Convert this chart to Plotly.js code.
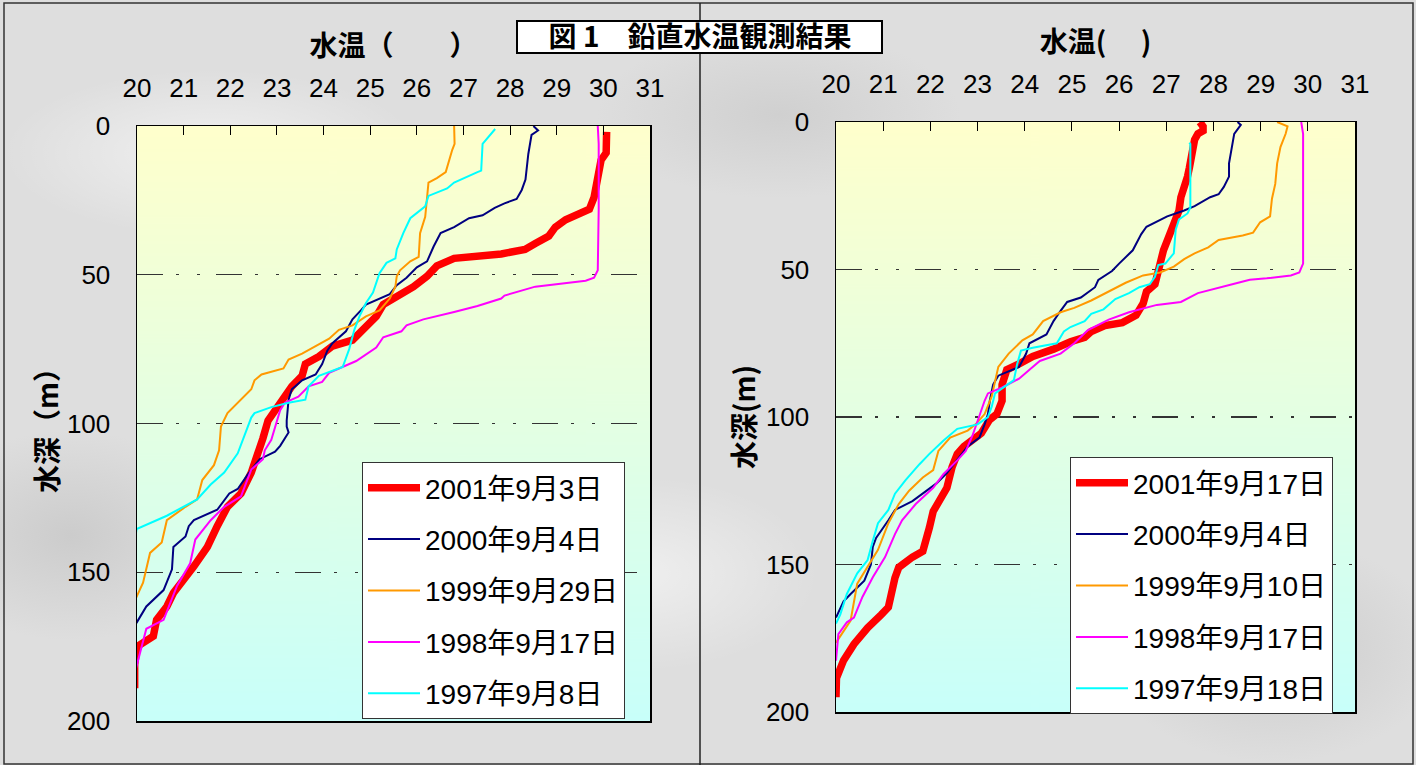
<!DOCTYPE html>
<html>
<head>
<meta charset="utf-8">
<script src="https://cdn.plot.ly/plotly-3.0.1.min.js"></script>
<style>
html,body{margin:0;padding:0;}
body{
  width:1416px;height:765px;overflow:hidden;
  background:
    radial-gradient(ellipse 300px 120px at 15% 20%, rgba(255,255,255,0.55), rgba(255,255,255,0) 70%),
    radial-gradient(ellipse 260px 140px at 45% 75%, rgba(255,255,255,0.5), rgba(255,255,255,0) 70%),
    radial-gradient(ellipse 320px 110px at 80% 30%, rgba(255,255,255,0.5), rgba(255,255,255,0) 70%),
    radial-gradient(ellipse 240px 160px at 90% 85%, rgba(170,170,170,0.35), rgba(170,170,170,0) 70%),
    radial-gradient(ellipse 220px 150px at 5% 70%, rgba(170,170,170,0.35), rgba(170,170,170,0) 70%),
    radial-gradient(ellipse 260px 120px at 55% 15%, rgba(175,175,175,0.3), rgba(175,175,175,0) 70%),
    #dedede;
}
#chart{width:1416px;height:765px;}
</style>
</head>
<body>
<div id="chart"></div>
<script>
// ---------- DATA (temperature °C, depth m) ----------
// Left panel
const L_2001_T = [30.07,30.06,29.95,29.88,29.80,29.70,29.48,29.19,28.97,28.83,28.54,28.32,27.81,27.09,26.80,26.43,26.22,25.93,25.57,25.28,25.13,24.91,24.62,24.19,23.90,23.61,23.54,23.32,23.17,22.96,22.81,22.70,22.56,22.45,22.23,21.94,21.72,21.51,21.22,21.00,20.78,20.64,20.42,20.35,20.00,19.95,19.95];
const L_2001_D = [2,9,11.5,17,24,28,29.5,31.5,34,37,39.5,41.5,43,44,44.5,47,50.5,54,57,60,64,67.5,72,74,77.5,80,84,87.5,91,95.5,99,105,111,116.5,123.5,128,134.5,141.5,148,152.5,157,161.5,166,171.5,175,181,189];

const L_2000_T = [28.50,28.60,28.46,28.39,28.33,28.25,28.14,27.88,27.67,27.41,27.12,26.80,26.51,26.36,26.22,26.00,25.78,25.57,25.42,25.13,24.91,24.80,24.62,24.48,24.19,24.08,23.97,23.83,23.54,23.32,23.25,23.21,23.21,23.25,23.07,22.96,22.63,22.38,22.16,21.98,21.72,21.22,21.11,21.04,20.78,20.75,20.57,20.20,19.99,19.90];
const L_2000_D = [0,1.5,3,9.5,18,21.5,24.5,26,27.5,30,31,34,36,40.5,45.5,47.5,51,53.5,56.5,58.5,60,62,65,69,73,75.5,80,83.5,85.5,88.5,92,99,101,103,107.5,109.5,112,117,122,123.5,129,132.5,134.5,138,141.5,149,156,161.5,167,168.5];

const L_1999_T = [26.80,26.81,26.76,26.65,26.62,26.43,26.25,26.22,26.18,26.07,26.04,25.86,25.64,25.57,25.54,25.42,25.20,24.91,24.62,24.33,24.12,23.83,23.54,23.25,23.14,22.67,22.52,22.45,22.16,21.94,21.80,21.76,21.65,21.40,21.29,21.04,20.64,20.53,20.28,20.13,19.91];
const L_1999_D = [0,6,8,14,15.5,17.5,19,24,30.5,36,44,45.5,48.5,50.5,54,58,62,64,67,68.5,71.5,74,76.5,78.5,81.5,83.5,85.5,88.5,93,96.5,101,109,114,119,125.5,128,132.5,140,143.5,153.5,161];

const L_1998_T = [29.88,29.90,29.90,29.88,29.80,29.62,28.54,27.88,27.81,27.30,26.80,26.14,25.78,25.67,25.28,25.13,24.70,24.41,24.12,23.97,23.68,23.46,23.17,23.07,22.98,22.88,22.74,22.70,22.45,22.23,21.87,21.58,21.25,21.14,20.86,20.57,20.20,20.06,19.95];
const L_1998_D = [0,6,28,48.5,51,52,54,57,58,60.5,62.5,65,67,69,71,74.5,79,81,83,86,87.5,91,93,95.5,100,105.5,109,112,115.5,124.5,128,132.5,139,147,154.5,166,169,177,184];

const L_1997_T = [27.68,27.48,27.41,27.38,27.30,26.80,26.65,26.25,26.18,25.86,25.71,25.57,25.54,25.35,25.20,25.06,24.91,24.77,24.66,24.55,24.41,23.90,23.68,23.61,23.25,22.88,22.52,22.45,22.30,22.16,21.87,21.58,21.29,20.93,20.64,19.99,19.95];
const L_1997_D = [1,4.5,6,15,15.5,19,21,23.5,27,31,36,41.5,44.5,46,49.5,56,59.5,64,68.5,75,81,84,87.5,92,93,94.5,96.5,98,104.5,110,116.5,120.5,125.5,128.5,131,135.5,140];

// Right panel
const R_2001_T = [27.71,27.78,27.78,27.67,27.60,27.53,27.49,27.45,27.38,27.31,27.27,27.16,27.02,26.94,26.87,26.83,26.76,26.58,26.51,26.36,26.07,25.70,25.41,25.27,24.97,24.61,24.17,23.88,23.62,23.52,23.52,23.41,23.25,23.08,22.86,22.71,22.57,22.46,22.35,22.17,22.06,21.98,21.84,21.62,21.33,21.25,21.11,20.96,20.67,20.38,20.16,20.01,20.00];
const R_2001_D = [0,1.5,3,4,6,10.5,15.5,18.5,22,25.5,30,34.5,39,43.5,48,51.5,55,57.5,61.5,65.5,68,69,71,73,74.5,77,79.5,82,84,89,94.5,99,101,105.5,108,110,112.5,117,124,128.5,132,137.5,145.5,147.5,151,154.5,164.5,167,171.5,177,182.5,188.5,195];

const R_2000_T = [28.51,28.58,28.44,28.40,28.33,28.33,28.22,28.11,27.93,27.60,27.38,27.02,26.58,26.47,26.29,26.00,25.85,25.56,25.49,25.19,24.90,24.76,24.61,24.46,24.10,24.03,23.88,23.44,23.33,23.26,23.22,23.15,23.04,22.79,22.57,22.35,22.13,21.84,21.62,21.25,21.11,20.85,20.78,20.74,20.60,20.31,20.16,20.00];
const R_2000_D = [0,1,4,7.5,14,18.5,22,24.5,25.5,28.5,30,32,35.5,38,43.5,48,50.5,53.5,56,59.5,61,64,67.5,72,75,78.5,83,86,89,94.5,99,102.5,107,110,114.5,119,122.5,126,128.5,131.5,135,141,144,150,155.5,160,162.5,168];

const R_1999_T = [29.35,29.57,29.53,29.42,29.35,29.31,29.24,29.20,28.99,28.84,28.62,28.11,27.89,27.60,27.38,27.16,26.87,26.51,26.14,25.78,25.41,25.05,24.76,24.39,24.17,23.95,23.66,23.44,23.37,23.30,23.15,22.97,22.79,22.42,22.17,22.06,21.84,21.55,21.33,21.11,20.89,20.45,20.31,20.00];
const R_1999_D = [0,1.5,4,8.5,14,21,26,32,34,37.5,38.5,40,42.5,44.5,46.5,49,51,52,54.5,57.5,60.5,63,64.5,67.5,72,74,78.5,83,87.5,93,99,102.3,104.6,107,111.5,118,120.5,125,129.5,136,145,156.5,169,176.5];

const R_1998_T = [29.86,29.90,29.90,29.90,29.82,29.64,29.13,28.77,28.40,27.89,27.67,27.31,26.80,26.21,25.78,25.34,25.19,25.05,24.76,24.32,24.10,23.88,23.52,23.22,23.15,23.08,23.02,22.90,22.75,22.57,22.28,22.06,21.69,21.40,21.25,21.04,20.78,20.56,20.38,20.23,20.05,20.00];
const R_1998_D = [0,4,30,48,51,52,53,53.5,55,57,58,61,62,64.5,67,70.5,73,75,78.5,81,84,87,90,92,94.5,97.5,100.5,106,111.5,114.7,119.3,124,129.5,135,139.7,147.5,154.3,161,168,169.6,173.6,182.6];

const R_1997_T = [27.49,27.51,27.51,27.45,27.27,27.20,27.16,26.98,26.83,26.76,26.65,26.43,26.21,25.92,25.67,25.41,25.27,24.97,24.83,24.68,24.17,23.92,23.84,23.77,23.37,23.30,23.22,23.00,22.57,22.28,21.98,21.77,21.47,21.25,21.11,20.89,20.78,20.67,20.45,20.23,20.09,20.00];
const R_1997_D = [7,7.5,29,31,33,36.5,44.5,48,48.5,52.5,55,56,58,60,63.5,65,67.5,69.5,71,75,76.5,77.5,82,87.5,92,96.5,100,102.5,104,108,112.5,116,121.5,126,131.5,136,142,148.5,153,160,167,170];

const leftNames  = ['2001年9月3日','2000年9月4日','1999年9月29日','1998年9月17日','1997年9月8日'];
const rightNames = ['2001年9月17日','2000年9月4日','1999年9月10日','1998年9月17日','1997年9月18日'];
const tempTicks = [20,21,22,23,24,25,26,27,28,29,30,31];
const depthTicks = [0,50,100,150,200];

// ---------- STYLE ----------
const W = 1416, H = 765;
const px = v => v / W;
const py = v => 1 - v / H;
const colors = ['#FF0000','#000080','#FF9900','#FF00FF','#00FFFF'];
const widths = [7.5,2,2,2,2];
const FONT = 'Liberation Sans, Arial, Noto Sans CJK JP, sans-serif';
const JFONT = 'Noto Sans CJK JP, Liberation Sans, sans-serif';

const leftData  = [[L_2001_T,L_2001_D],[L_2000_T,L_2000_D],[L_1999_T,L_1999_D],[L_1998_T,L_1998_D],[L_1997_T,L_1997_D]];
const rightData = [[R_2001_T,R_2001_D],[R_2000_T,R_2000_D],[R_1999_T,R_1999_D],[R_1998_T,R_1998_D],[R_1997_T,R_1997_D]];

const traces = [];
leftData.forEach((s,i) => traces.push({
  x: s[0], y: s[1], xaxis:'x', yaxis:'y', type:'scatter', mode:'lines',
  name: leftNames[i], legend:'legend', legendgroup:'L'+i,
  line:{color:colors[i], width:widths[i]}
}));
rightData.forEach((s,i) => traces.push({
  x: s[0], y: s[1], xaxis:'x2', yaxis:'y2', type:'scatter', mode:'lines',
  name: rightNames[i], legend:'legend2', legendgroup:'R'+i,
  line:{color:colors[i], width:widths[i]}
}));

function gradientURL(){
  const c = document.createElement('canvas'); c.width = 4; c.height = 400;
  const g = c.getContext('2d');
  const gr = g.createLinearGradient(0,0,0,400);
  gr.addColorStop(0,'#FFFFCC'); gr.addColorStop(1,'#C8FFFA');
  g.fillStyle = gr; g.fillRect(0,0,4,400);
  return c.toDataURL('image/png');
}
const grad = gradientURL();

const GRIDDASH = '26px,13px,3px,18px,3px,16px';

function xAxis(domain, anchor, title){
  return {
    domain, anchor, side:'top', range:[20,31], tickvals: tempTicks,
    ticks:'inside', ticklen:9, tickwidth:1, tickcolor:'#000',
    ticklabelstandoff: 17,
    showline:true, mirror:true, linecolor:'#000', linewidth:1.5,
    showgrid:false, zeroline:false, automargin:false, fixedrange:true,
    tickfont:{family:FONT, size:26, color:'#000'},
    title:{text:title, font:{family:JFONT, size:28, color:'#000'}, standoff:8}
  };
}
function yAxis(domain, anchor, title, standoff){
  return {
    domain, anchor, range:[200,0], tickvals: depthTicks,
    ticks:'', ticklabelstandoff: 20,
    showline:true, mirror:true, linecolor:'#000', linewidth:1.5,
    showgrid:true, gridcolor:'#333', gridwidth:1.2, griddash: GRIDDASH,
    zeroline:false, automargin:false, fixedrange:true,
    tickfont:{family:FONT, size:26, color:'#000'},
    title:{text:title, font:{family:JFONT, size:28, color:'#000'}, standoff:standoff}
  };
}

const legendBase = {
  xanchor:'left', yanchor:'top', bgcolor:'#FFFFFF', bordercolor:'#333', borderwidth:1,
  font:{family:FONT, size:28, color:'#000'}, traceorder:'grouped', tracegroupgap:12,
  itemwidth:52
};

const layout = {
  width:W, height:H, autosize:false,
  margin:{l:0,r:0,t:0,b:0,pad:0},
  paper_bgcolor:'rgba(0,0,0,0)', plot_bgcolor:'rgba(0,0,0,0)',
  showlegend:true,
  title:{text:'<b>図 1　鉛直水温観測結果</b>', x:px(700), xanchor:'center', y:py(37), yanchor:'middle',
         font:{family:JFONT, size:28, color:'#000'}},
  xaxis:  xAxis([px(137), px(650)], 'y',  '<b>水温（　　）</b>'),
  yaxis:  yAxis([1-721/H, 1-126/H], 'x',  '<b>水深（m）</b>', 0),
  xaxis2: xAxis([px(836), px(1355)], 'y2', '<b>水温(　 )</b>'),
  yaxis2: yAxis([1-712/H, 1-122/H], 'x2', '<b>水深(m)</b>', 2),
  legend:  Object.assign({x:px(362),  y:py(462)}, legendBase),
  legend2: Object.assign({x:px(1070), y:py(457)}, legendBase),
  images:[
    {source:grad, xref:'paper', yref:'paper', x:px(137), y:1-126/H, sizex:px(650)-px(137), sizey:(721-126)/H,
     sizing:'stretch', xanchor:'left', yanchor:'top', layer:'below'},
    {source:grad, xref:'paper', yref:'paper', x:px(836), y:1-122/H, sizex:px(1355)-px(836), sizey:(712-122)/H,
     sizing:'stretch', xanchor:'left', yanchor:'top', layer:'below'}
  ],
  shapes:[
    {type:'rect', xref:'paper', yref:'paper', x0:px(4), x1:px(1413), y0:py(764), y1:py(3),
     line:{color:'#333', width:1.5}, fillcolor:'rgba(0,0,0,0)', layer:'below'},
    {type:'line', xref:'paper', yref:'paper', x0:px(700), x1:px(700), y0:py(765), y1:py(3),
     line:{color:'#222', width:1.5}, layer:'below'},
    {type:'rect', xref:'paper', yref:'paper', x0:px(517), x1:px(882), y0:py(53), y1:py(21),
     line:{color:'#000', width:2}, fillcolor:'#FFFFFF', layer:'below'}
  ]
};

Plotly.newPlot('chart', traces, layout, {displayModeBar:false, staticPlot:true});
</script>
</body>
</html>
